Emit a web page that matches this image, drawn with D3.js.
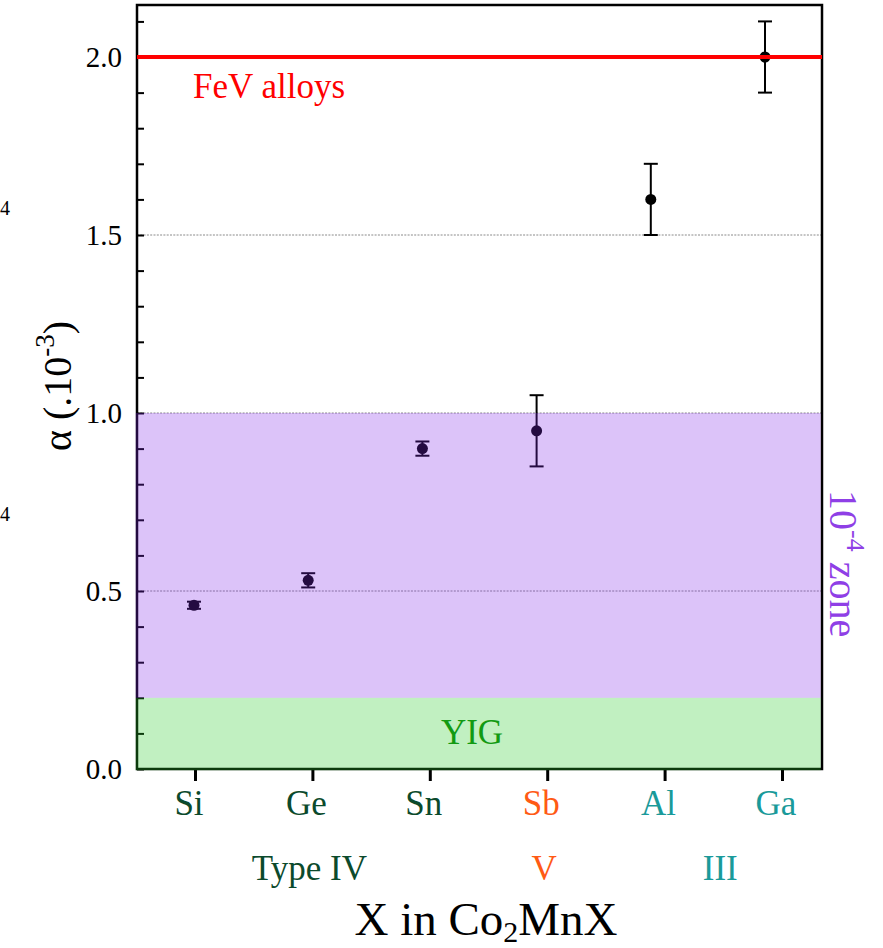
<!DOCTYPE html>
<html>
<head>
<meta charset="utf-8">
<script src="https://cdn.jsdelivr.net/npm/d3@7"></script>
<style>
  html, body { margin: 0; padding: 0; background: #fff; }
  svg { display: block; font-family: "Liberation Serif", "DejaVu Serif", serif; }
</style>
</head>
<body>
<svg id="chart" width="883" height="948"></svg>
<script>
// ---- data ----
const categories = ["Si", "Ge", "Sn", "Sb", "Al", "Ga"];
const alphaValues = [0.46, 0.53, 0.90, 0.95, 1.60, 2.00];
const alphaErrors = [0.01, 0.02, 0.02, 0.10, 0.10, 0.10];
const categoryColors = ["#0b4a2c", "#0b4a2c", "#0b4a2c", "#ff5a14", "#1a9a9a", "#1a9a9a"];
const groupNames = ["Type IV", "V", "III"];
const groupMembers = [["Si", "Ge", "Sn"], ["Sb"], ["Al", "Ga"]];
const groupColors = ["#0b4a2c", "#ff5a14", "#1a9a9a"];
const yTickValues = [0.0, 0.5, 1.0, 1.5, 2.0];
const gridValues = [0.5, 1.0, 1.5, 2.0];
const zoneNames = ["YIG", "10^-4 zone"];
const zoneLow = [0.0, 0.2];
const zoneHigh = [0.2, 1.0];
const fevValue = 2.0;

// ---- layout ----
const plotL = 137, plotR = 822, plotT = 5, plotB = 769;
const svg = d3.select("#chart");

const y = d3.scaleLinear().domain([0, 2.1461]).range([plotB, plotT]);
const xAxisScale = d3.scalePoint().domain(categories).range([195, 782]);
const xData = d3.scalePoint().domain(categories).range([194, 765]);

// gridlines
svg.append("g").selectAll("line").data(gridValues).join("line")
  .attr("x1", plotL).attr("x2", plotR)
  .attr("y1", d => y(d)).attr("y2", d => y(d))
  .attr("stroke", "#8a8a8a").attr("stroke-width", 1)
  .attr("stroke-dasharray", "2,1.3");

// y axis (ticks inside)
const minorTicks = d3.range(0, 22).map(i => i / 10);
const yAxis = d3.axisLeft(y).tickValues(minorTicks).tickSize(-7).tickFormat("");
const gy = svg.append("g").attr("transform", `translate(${plotL},0)`).call(yAxis);
gy.select(".domain").remove();
gy.selectAll(".tick line").attr("stroke", "#000").attr("stroke-width", 2);

// y labels
svg.append("g").selectAll("text").data(yTickValues).join("text")
  .attr("x", 122).attr("y", d => y(d)).attr("dy", "0.35em")
  .attr("text-anchor", "end").attr("font-size", 29).attr("fill", "#000")
  .text(d => d3.format(".1f")(d));

// x axis ticks (outside)
const xAxis = d3.axisBottom(xAxisScale).tickSize(12).tickFormat("");
const gx = svg.append("g").attr("transform", `translate(0,${plotB})`).call(xAxis);
gx.select(".domain").remove();
gx.selectAll(".tick line").attr("stroke", "#000").attr("stroke-width", 3);

// frame
svg.append("rect").attr("x", plotL).attr("y", plotT)
  .attr("width", plotR - plotL).attr("height", plotB - plotT)
  .attr("fill", "none").attr("stroke", "#000").attr("stroke-width", 2.5);

// error bars and points
const pts = categories.map((c, i) => ({ c, v: alphaValues[i], e: alphaErrors[i] }));
const eg = svg.append("g");
eg.selectAll("line.v").data(pts).join("line").attr("class", "v")
  .attr("x1", d => xData(d.c)).attr("x2", d => xData(d.c))
  .attr("y1", d => y(d.v - d.e)).attr("y2", d => y(d.v + d.e))
  .attr("stroke", "#000").attr("stroke-width", 2);
["lo", "hi"].forEach(k => {
  eg.selectAll("line." + k).data(pts).join("line").attr("class", k)
    .attr("x1", d => xData(d.c) - 7).attr("x2", d => xData(d.c) + 7)
    .attr("y1", d => y(k === "lo" ? d.v - d.e : d.v + d.e))
    .attr("y2", d => y(k === "lo" ? d.v - d.e : d.v + d.e))
    .attr("stroke", "#000").attr("stroke-width", 2);
});
eg.selectAll("circle").data(pts).join("circle")
  .attr("cx", d => xData(d.c)).attr("cy", d => y(d.v)).attr("r", 5.5)
  .attr("fill", "#000");

// zone bands (translucent, drawn over)
const zoneFill = ["rgb(40,205,40)", "rgb(128,40,235)"];
const zoneOpacity = [0.29, 0.28];
svg.append("g").selectAll("rect").data(zoneNames).join("rect")
  .attr("x", plotL - 1.3).attr("width", plotR - plotL)
  .attr("y", (d, i) => y(zoneHigh[i]))
  .attr("height", (d, i) => y(zoneLow[i]) - y(zoneHigh[i]) + (i === 0 ? 1.3 : 0))
  .attr("fill", (d, i) => zoneFill[i]).attr("fill-opacity", (d, i) => zoneOpacity[i]);

// FeV reference line
svg.append("line").attr("x1", plotL).attr("x2", plotR)
  .attr("y1", y(fevValue)).attr("y2", y(fevValue))
  .attr("stroke", "#ff0000").attr("stroke-width", 4);

svg.append("text").attr("x", 193).attr("y", 98).attr("font-size", 35)
  .attr("fill", "#ff0000").text("FeV alloys");

// YIG label
svg.append("text").attr("x", 472).attr("y", 744).attr("text-anchor", "middle")
  .attr("font-size", 35).attr("fill", "#129a12").text(zoneNames[0]);

// 10^-4 zone label (rotated)
const zt = svg.append("text").attr("transform", "translate(830,490) rotate(90)")
  .attr("font-size", 40).attr("fill", "#8f3fe6");
zt.append("tspan").text("10");
zt.append("tspan").attr("dy", -17).attr("font-size", 26).text("-4");
zt.append("tspan").attr("dy", 17).attr("dx", 10).text("zone");

// x category labels
svg.append("g").selectAll("text").data(categories).join("text")
  .attr("x", d => xAxisScale(d) - 6).attr("y", 815)
  .attr("text-anchor", "middle").attr("font-size", 35)
  .attr("fill", (d, i) => categoryColors[i]).text(d => d);

// group labels
svg.append("g").selectAll("text").data(groupNames).join("text")
  .attr("x", (d, i) => d3.mean(groupMembers[i], c => xAxisScale(c)) - 3)
  .attr("y", 880).attr("text-anchor", "middle").attr("font-size", 35)
  .attr("fill", (d, i) => groupColors[i]).text(d => d);

// x title
const xt = svg.append("text").attr("x", 486).attr("y", 935)
  .attr("text-anchor", "middle").attr("font-size", 47).attr("fill", "#000");
xt.append("tspan").text("X in Co");
xt.append("tspan").attr("dy", 7).attr("font-size", 30).text("2");
xt.append("tspan").attr("dy", -7).text("MnX");

// y title
const yt = svg.append("text").attr("transform", "translate(71,386) rotate(-90)")
  .attr("text-anchor", "middle").attr("font-size", 40).attr("fill", "#000");
yt.append("tspan").text("α (.10");
yt.append("tspan").attr("dy", -17).attr("font-size", 27).text("-3");
yt.append("tspan").attr("dy", 17).text(")");

// stray glyphs at left edge
svg.append("text").attr("x", 0).attr("y", 215).attr("font-size", 20).attr("fill", "#000").text("4");
svg.append("text").attr("x", 0).attr("y", 521).attr("font-size", 20).attr("fill", "#000").text("4");
</script>
</body>
</html>
